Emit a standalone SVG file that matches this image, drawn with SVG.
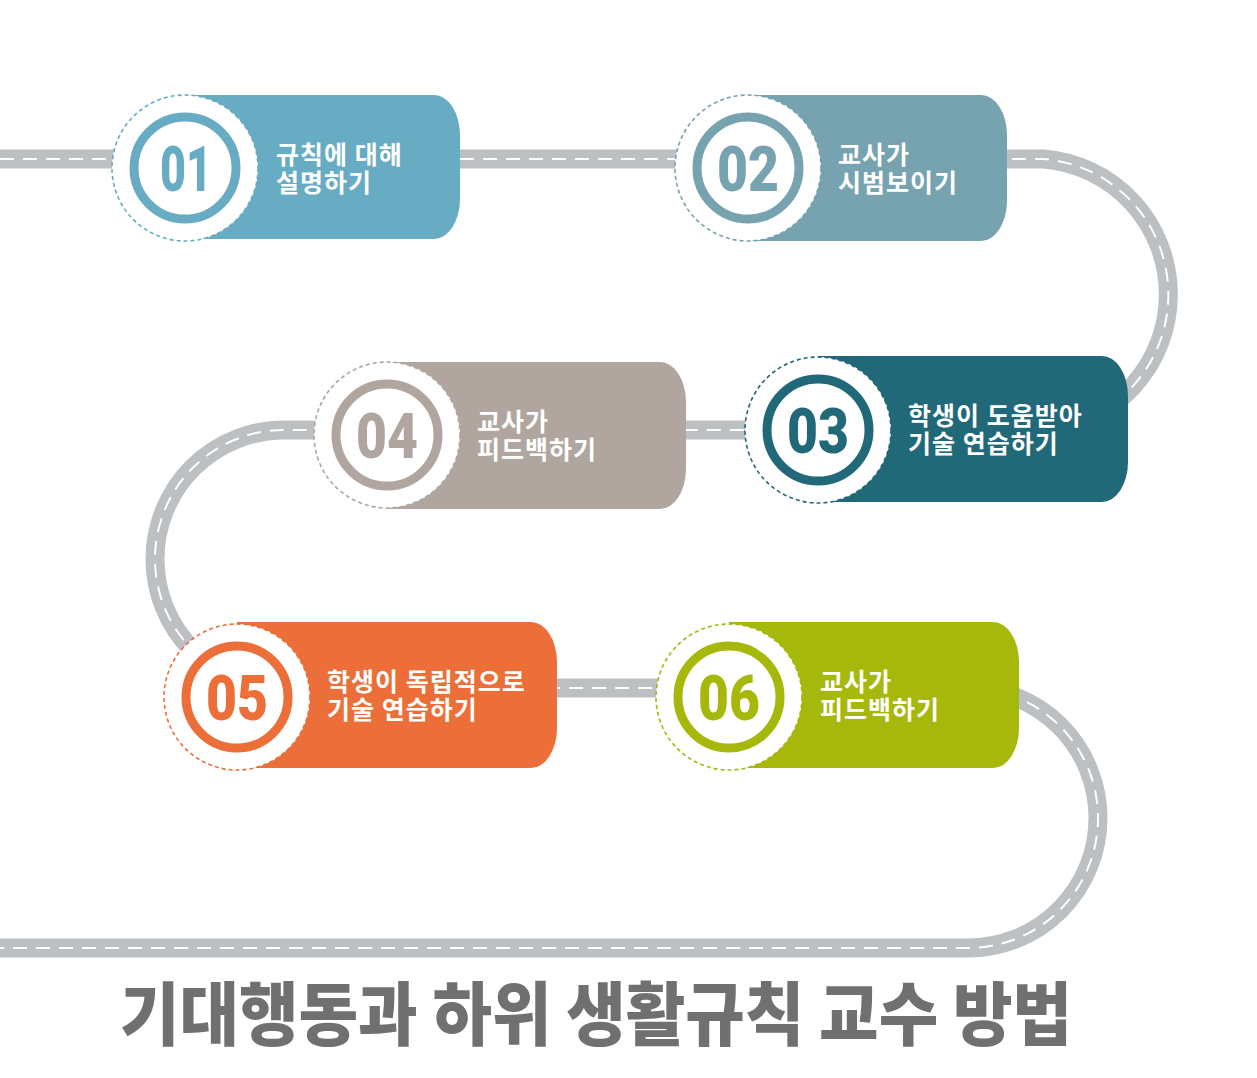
<svg xmlns="http://www.w3.org/2000/svg" width="1257" height="1078" viewBox="0 0 1257 1078">
<style>
.road{fill:none;stroke:#bcc0c3;stroke-width:19}
.lane{fill:none;stroke:#ffffff;stroke-width:2;stroke-dasharray:14 9}
.outer{fill:#ffffff;stroke-width:1.6;stroke-dasharray:4 3}
.ring{fill:#ffffff;stroke-width:9}
.num{font-family:Roboto,"Liberation Sans",sans-serif;font-weight:900;font-size:63px;text-anchor:middle}
.lbl{font-family:"Noto Sans CJK KR","Noto Sans",sans-serif;font-weight:700;font-size:25px;letter-spacing:1px;fill:#ffffff}
.title{font-family:"Noto Sans CJK KR","Noto Sans",sans-serif;font-weight:900;font-size:69px;fill:#707070;text-anchor:middle}
</style>
<rect width="1257" height="1078" fill="#ffffff"/>
<g id="connectors">
<path class="road" d="M0 159 H1044 A136 136 0 0 1 1044 430 H284 A129 129 0 0 0 284 688 H968 A130 130 0 0 1 968 948 H0"/>
<path class="lane" d="M0 159 H1044 A136 136 0 0 1 1044 430 H284 A129 129 0 0 0 284 688 H968 A130 130 0 0 1 968 948 H0"/>
</g>
<g id="node01">
<path d="M185 95 H434 A26 40 0 0 1 460 135 V199 A26 40 0 0 1 434 239 H185 Z" fill="#67acc2"/>
<circle class="outer" cx="185" cy="168" r="73" stroke="#67acc2"/>
<circle class="ring" cx="185" cy="168" r="51" stroke="#67acc2"/>
<text class="num" x="186" y="191" fill="#67acc2" textLength="52" lengthAdjust="spacingAndGlyphs">01</text>
<text class="lbl" x="276"><tspan x="276" y="164">규칙에 대해</tspan><tspan x="276" y="192">설명하기</tspan></text>
</g>
<g id="node02">
<path d="M748 95 H981 A26 40 0 0 1 1007 135 V201 A26 40 0 0 1 981 241 H748 Z" fill="#77a3b0"/>
<circle class="outer" cx="748" cy="168" r="73" stroke="#77a3b0"/>
<circle class="ring" cx="748" cy="168" r="51" stroke="#77a3b0"/>
<text class="num" x="748" y="191" fill="#77a3b0" textLength="62" lengthAdjust="spacingAndGlyphs">02</text>
<text class="lbl" x="838"><tspan x="838" y="164">교사가</tspan><tspan x="838" y="192">시범보이기</tspan></text>
</g>
<g id="node03">
<path d="M818 356 H1102 A26 40 0 0 1 1128 396 V462 A26 40 0 0 1 1102 502 H818 Z" fill="#216978"/>
<circle class="outer" cx="818" cy="430" r="73" stroke="#216978"/>
<circle class="ring" cx="818" cy="430" r="51" stroke="#216978"/>
<text class="num" x="818" y="453" fill="#216978" textLength="62" lengthAdjust="spacingAndGlyphs">03</text>
<text class="lbl" x="908"><tspan x="908" y="425">학생이 도움받아</tspan><tspan x="908" y="453">기술 연습하기</tspan></text>
</g>
<g id="node04">
<path d="M387 362 H660 A26 40 0 0 1 686 402 V469 A26 40 0 0 1 660 509 H387 Z" fill="#b0a69f"/>
<circle class="outer" cx="387" cy="435" r="73" stroke="#b0a69f"/>
<circle class="ring" cx="387" cy="435" r="51" stroke="#b0a69f"/>
<text class="num" x="387" y="458" fill="#b0a69f" textLength="62" lengthAdjust="spacingAndGlyphs">04</text>
<text class="lbl" x="477"><tspan x="477" y="431">교사가</tspan><tspan x="477" y="459">피드백하기</tspan></text>
</g>
<g id="node05">
<path d="M237 622 H531 A26 40 0 0 1 557 662 V728 A26 40 0 0 1 531 768 H237 Z" fill="#ec6e38"/>
<circle class="outer" cx="237" cy="697" r="73" stroke="#ec6e38"/>
<circle class="ring" cx="237" cy="697" r="51" stroke="#ec6e38"/>
<text class="num" x="237" y="720" fill="#ec6e38" textLength="62" lengthAdjust="spacingAndGlyphs">05</text>
<text class="lbl" x="327"><tspan x="327" y="691">학생이 독립적으로</tspan><tspan x="327" y="719">기술 연습하기</tspan></text>
</g>
<g id="node06">
<path d="M729 622 H993 A26 40 0 0 1 1019 662 V728 A26 40 0 0 1 993 768 H729 Z" fill="#a6b80b"/>
<circle class="outer" cx="729" cy="697" r="73" stroke="#a6b80b"/>
<circle class="ring" cx="729" cy="697" r="51" stroke="#a6b80b"/>
<text class="num" x="729" y="720" fill="#a6b80b" textLength="62" lengthAdjust="spacingAndGlyphs">06</text>
<text class="lbl" x="820"><tspan x="820" y="691">교사가</tspan><tspan x="820" y="719">피드백하기</tspan></text>
</g>
<text class="title" x="596" y="1040" textLength="952" lengthAdjust="spacingAndGlyphs">기대행동과 하위 생활규칙 교수 방법</text>
</svg>
